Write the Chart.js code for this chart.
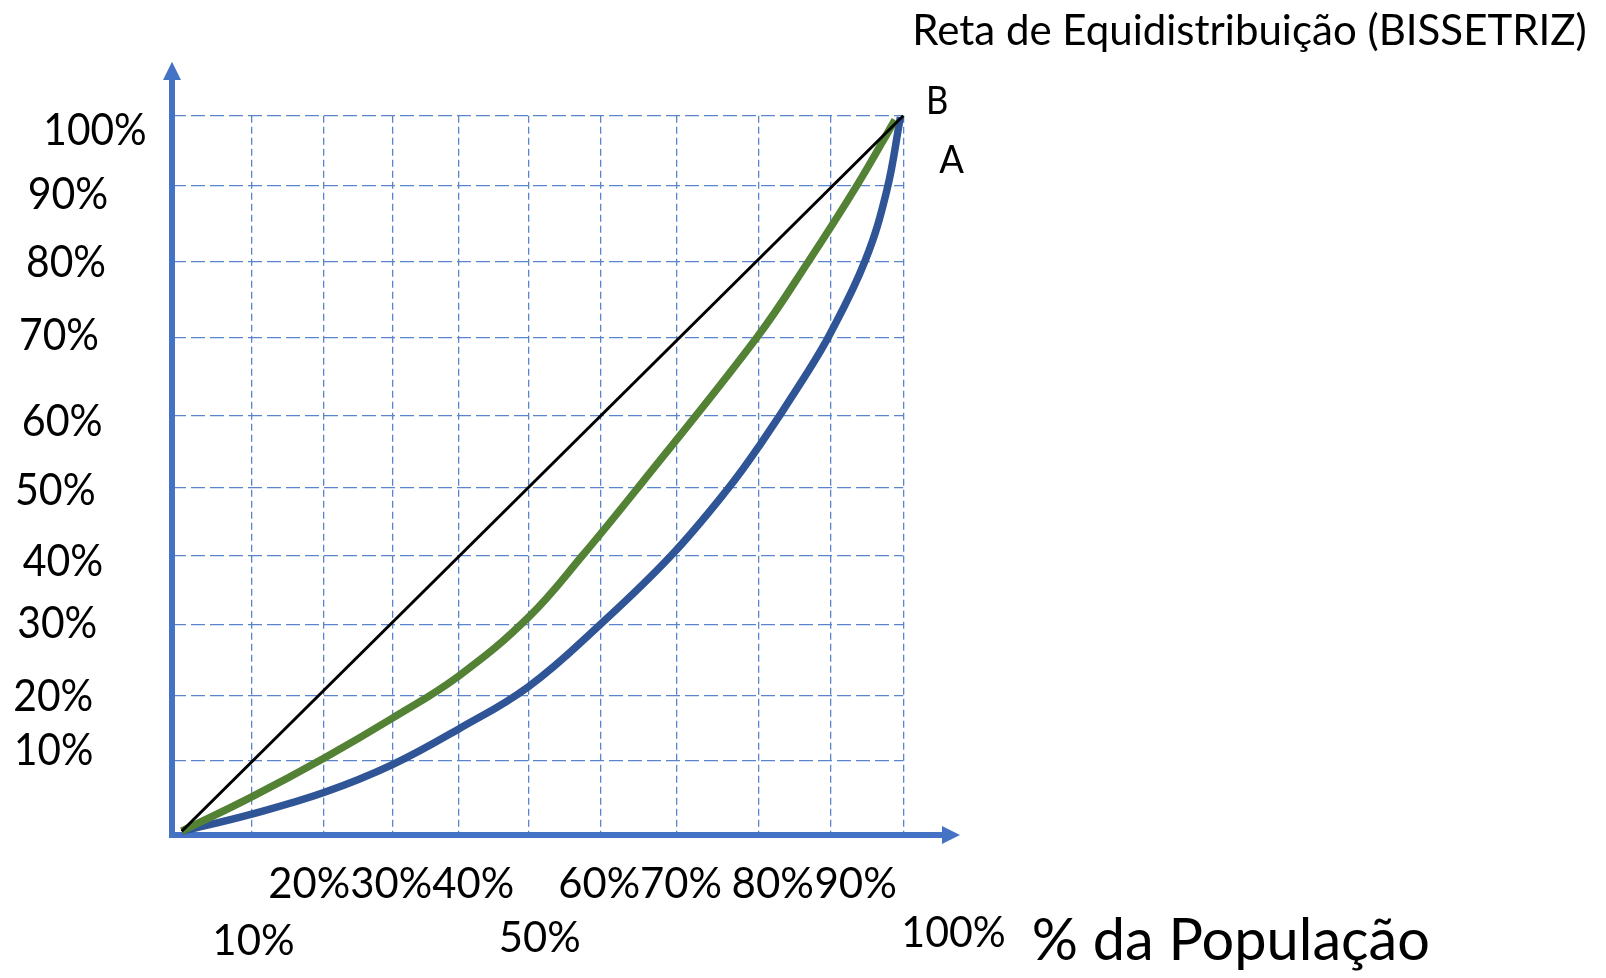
<!DOCTYPE html>
<html>
<head>
<meta charset="utf-8">
<script src="https://cdn.jsdelivr.net/npm/chart.js@4/dist/chart.umd.min.js"></script>
<style>
html,body{margin:0;padding:0;background:#ffffff;}
#wrap{width:1606px;height:978px;position:relative;}
canvas{display:block;}
</style>
</head>
<body>
<div id="wrap"><canvas id="c" width="1606" height="978"></canvas></div>
<script>
// ---------- DATA ----------
// Reta de equidistribuição (bissetriz)
const populacaoBissetriz = [0, 100];
const rendaBissetriz = [0, 100];
// Curva B (verde)
const populacaoCurvaB = [0, 9.7, 19.7, 29.2, 38.4, 48.05, 55.6, 63.3, 79.7, 86.9, 93.6, 98.85];
const rendaCurvaB     = [0, 4.8, 10.2, 15.8, 21.7, 29.9, 38.6, 48.1, 69.0, 79.7, 90.3, 99.4];
// Curva A (azul)
const populacaoCurvaA = [0, 9.7, 19.7, 29.2, 38.4, 48.05, 58.0, 67.8, 75.8, 80.0, 86.0, 89.9, 94.7, 97.7, 99.6];
const rendaCurvaA     = [0, 2.4, 5.4, 9.3, 14.3, 20.2, 28.9, 38.5, 48.0, 53.8, 63.0, 69.6, 79.7, 89.5, 99.8];
// Linhas de grade (posições, irregulares)
const gradeX = [9.7, 19.73, 29.2, 38.44, 48.05, 58.06, 68.56, 80.0, 90.0, 100];
const gradeY = [9.85, 19.0, 28.8, 38.46, 48.0, 58.1, 69.0, 79.6, 90.27, 100];
// Rótulos
const rotulosY = ['100%', '90%', '80%', '70%', '60%', '50%', '40%', '30%', '20%', '10%'];
const rotulosX = ['20%', '30%', '40%', '60%', '70%', '80%', '90%', '10%', '50%', '100%'];
const tituloEixoX = '% da População';
const tituloReta = 'Reta de Equidistribuição (BISSETRIZ)';
const rotuloCurvaB = 'B';
const rotuloCurvaA = 'A';

// ---------- LAYOUT / STYLE ----------
const FONT = 'Lato, "Open Sans", sans-serif';
const AXIS_COLOR = '#4472C4';
const GRID_COLOR = '#5a84cc';
// label boxes: [left, right, baseline]
const posRotulosY = [
  [43.3, 146.7, 145], [27.7, 108.3, 209], [26, 106, 277], [19, 99, 350], [21.7, 102.7, 436],
  [15, 95.7, 505], [22.7, 103.3, 576], [17.3, 97.3, 638], [13.3, 93.3, 711], [14, 93.3, 765]
];
const posRotulosX = [
  [268.3, 350.3, 898], [350.3, 432.2, 898], [432.2, 514.1, 898],
  [558.2, 640.1, 898], [640.1, 722, 898], [731.3, 814.2, 898], [814.2, 897.2, 898],
  [212, 295, 955], [498.8, 580.7, 952], [901.3, 1005.8, 947]
];
const posTituloEixoX = [1031.7, 1430, 960];
const posTituloReta = [901, 1598, 45];
const posRotuloB = [926, 948.3, 114];
const posRotuloA = [939.3, 964, 172.7];

function pts(xs, ys) { return xs.map((x, i) => ({x: x, y: ys[i]})); }

function drawLabel(ctx, text, box, size) {
  ctx.font = size + 'px ' + FONT;
  const w = box[1] - box[0];
  const nat = ctx.measureText(text).width;
  const off = nat < w ? (w - nat) / 2 : 0;
  ctx.fillText(text, box[0] + off, box[2], w);
}

const axesPlugin = {
  id: 'axesPlugin',
  beforeDatasetsDraw(chart) {
    const ctx = chart.ctx, a = chart.chartArea;
    ctx.save();
    ctx.strokeStyle = AXIS_COLOR; ctx.fillStyle = AXIS_COLOR; ctx.lineWidth = 6;
    // vertical axis
    ctx.beginPath(); ctx.moveTo(a.left, a.bottom + 3); ctx.lineTo(a.left, 79); ctx.stroke();
    ctx.beginPath(); ctx.moveTo(a.left - 9, 80); ctx.lineTo(a.left + 9, 80); ctx.lineTo(a.left, 61.7); ctx.closePath(); ctx.fill();
    // horizontal axis
    ctx.beginPath(); ctx.moveTo(a.left - 3, a.bottom); ctx.lineTo(943, a.bottom); ctx.stroke();
    ctx.beginPath(); ctx.moveTo(942, a.bottom - 9); ctx.lineTo(942, a.bottom + 9); ctx.lineTo(960, a.bottom); ctx.closePath(); ctx.fill();
    ctx.restore();
  },
  afterDraw(chart) {
    const ctx = chart.ctx;
    ctx.save();
    ctx.fillStyle = '#000000';
    ctx.textAlign = 'left';
    ctx.textBaseline = 'alphabetic';
    rotulosY.forEach((t, i) => drawLabel(ctx, t, posRotulosY[i], 44));
    rotulosX.forEach((t, i) => drawLabel(ctx, t, posRotulosX[i], 42));
    drawLabel(ctx, tituloEixoX, posTituloEixoX, 59);
    drawLabel(ctx, tituloReta, posTituloReta, 42);
    drawLabel(ctx, rotuloCurvaB, posRotuloB, 38);
    drawLabel(ctx, rotuloCurvaA, posRotuloA, 38);
    ctx.restore();
  }
};

new Chart(document.getElementById('c'), {
  type: 'scatter',
  data: {
    datasets: [
      { label: tituloReta, data: pts(populacaoBissetriz, rendaBissetriz), showLine: true,
        borderColor: '#000000', borderWidth: 3, pointRadius: 0, clip: false, order: 0 },
      { label: rotuloCurvaB, data: pts(populacaoCurvaB, rendaCurvaB), showLine: true,
        borderColor: '#548235', borderWidth: 7.5, pointRadius: 0, clip: false, order: 1,
        tension: 0.4, borderCapStyle: 'butt' },
      { label: rotuloCurvaA, data: pts(populacaoCurvaA, rendaCurvaA), showLine: true,
        borderColor: '#2F5597', borderWidth: 7.5, pointRadius: 0, clip: false, order: 2,
        tension: 0.4, borderCapStyle: 'butt' }
    ]
  },
  options: {
    responsive: false,
    animation: false,
    events: [],
    layout: { padding: { left: 172, right: 702.7, top: 115.7, bottom: 143 } },
    plugins: { legend: { display: false }, title: { display: false }, tooltip: { enabled: false } },
    scales: {
      x: {
        type: 'linear', min: -1.35, max: 100,
        afterBuildTicks: s => { s.ticks = gradeX.map(v => ({ value: v })); },
        ticks: { display: false },
        grid: { color: GRID_COLOR, lineWidth: 1.3, drawTicks: false },
        border: { display: false, dash: [7, 4] }
      },
      y: {
        type: 'linear', min: -0.53, max: 100,
        afterBuildTicks: s => { s.ticks = gradeY.map(v => ({ value: v })); },
        ticks: { display: false },
        grid: { color: GRID_COLOR, lineWidth: 1.3, drawTicks: false },
        border: { display: false, dash: [14, 5] }
      }
    }
  },
  plugins: [axesPlugin]
});
</script>
</body>
</html>
